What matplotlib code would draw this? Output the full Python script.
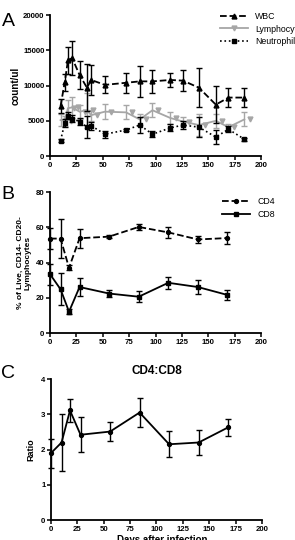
import numpy as np
import matplotlib
matplotlib.use("Agg")
import matplotlib.pyplot as plt

plt.rcParams['font.family'] = ['Liberation Sans', 'DejaVu Sans']

# панель A: кровь
days_a = [10, 14, 17, 21, 28, 35, 39, 52, 72, 85, 97, 114, 126, 141, 157, 169, 184]
wbc = [7100, 10500, 13600, 13900, 11500, 9700, 10800, 10100, 10400, 10600, 10600, 10800, 10700, 9700, 7300, 8300, 8300]
wbc_err = [1000, 1200, 1900, 2400, 2000, 3300, 2100, 1200, 1400, 2200, 1600, 1000, 1500, 2800, 2600, 1300, 1400]
lymph = [5100, 5000, 6800, 6900, 6300, 6500, 5800, 6300, 6200, 5200, 6500, 5400, 4900, 4400, 5000, 4100, 5200]
lymph_err = [800, 700, 1200, 1500, 1000, 2500, 800, 1100, 1000, 800, 1000, 900, 700, 1500, 1000, 500, 1000]
neut = [2200, 4700, 5700, 5300, 4900, 4100, 4300, 3100, 3700, 4400, 3100, 4000, 4400, 4100, 2700, 3800, 2400]
neut_err = [200, 600, 500, 500, 500, 1600, 600, 500, 200, 1100, 400, 500, 600, 1400, 1000, 400, 200]

# панели B и C
days_t = [0, 10, 18, 28, 56, 84, 112, 140, 168]
cd4 = [53.7, 53.7, 37.1, 53.9, 54.8, 60.3, 57.2, 53.2, 54.0]
cd4_err = [6, 11, 1.5, 5.5, 1, 1.8, 3, 2, 3.5]
cd8 = [33.5, 24.9, 12.2, 26.2, 22.5, 20.7, 28.6, 26.2, 21.7]
cd8_err = [6, 9, 1.5, 5, 2, 3, 3.5, 4, 3]
ratio = [1.9, 2.2, 3.11, 2.42, 2.51, 3.05, 2.15, 2.2, 2.63]
ratio_err = [0.41, 0.8, 0.33, 0.5, 0.26, 0.42, 0.37, 0.35, 0.25]

grey = '#a6a6a6'

fig = plt.figure(figsize=(2.95, 5.4), dpi=100)


def style(ax, ymax, ystep):
    for s in ['top', 'right']:
        ax.spines[s].set_visible(False)
    for s in ['left', 'bottom']:
        ax.spines[s].set_linewidth(1.3)
    ax.set_xlim(0, 200)
    ax.set_ylim(0, ymax)
    ax.set_xticks(np.arange(0, 201, 25))
    ax.set_yticks(np.arange(0, ymax + 1e-9, ystep))
    ax.tick_params(direction='out', length=3, width=1.1, pad=1, labelsize=5.6)
    for lab in ax.get_xticklabels() + ax.get_yticklabels():
        lab.set_fontweight('bold')


# A
axA = fig.add_axes([0.1695, 0.711, 0.716, 0.261])
axA.errorbar(days_a, wbc, yerr=wbc_err, color='black', ls='--', lw=1.3, marker='^', ms=3.5,
             capsize=2.5, elinewidth=1.0, capthick=1.0, label='WBC', clip_on=False, zorder=3)
axA.errorbar(days_a, lymph, yerr=lymph_err, color=grey, ls='-', lw=1.3, capsize=2.5,
             elinewidth=1.0, capthick=1.0, clip_on=False, zorder=2)
axA.plot(np.array(days_a) + 5.5, lymph, ls='none', marker='v', ms=3.5, color=grey, clip_on=False, zorder=2)
axA.errorbar(days_a, neut, yerr=neut_err, color='black', ls=':', lw=1.2, marker='s', ms=3.5,
             capsize=2.5, elinewidth=1.0, capthick=1.0, label='Neutrophils', clip_on=False, zorder=3)
style(axA, 20000, 5000)
axA.set_ylabel('count/ul', fontsize=7, fontweight='bold', labelpad=2)
hA = [plt.Line2D([], [], color='black', ls='--', lw=1.3, marker='^', ms=3.5),
      plt.Line2D([], [], color=grey, ls='-', lw=1.3, marker='v', ms=3.5),
      plt.Line2D([], [], color='black', ls=':', lw=1.2, marker='s', ms=3.5)]
axA.legend(hA, ['WBC', 'Lymphocytes', 'Neutrophils'], loc='upper left', bbox_to_anchor=(0.79, 1.05),
           frameon=False, fontsize=6.3, handlelength=3.2, labelspacing=0.45, borderaxespad=0)

# B
axB = fig.add_axes([0.1695, 0.383, 0.716, 0.261])
axB.errorbar(days_t, cd4, yerr=cd4_err, color='black', ls='--', lw=1.3, marker='o', ms=2.8,
             capsize=2.5, elinewidth=1.0, capthick=1.0, label='CD4', clip_on=False)
axB.errorbar(days_t, cd8, yerr=cd8_err, color='black', ls='-', lw=1.3, marker='s', ms=3.3,
             capsize=2.5, elinewidth=1.0, capthick=1.0, label='CD8', clip_on=False)
style(axB, 80, 20)
axB.set_ylabel('% of Live, CD14- CD20-\nLymphocytes', fontsize=6, fontweight='bold', labelpad=3)
hB = [plt.Line2D([], [], color='black', ls='--', lw=1.3, marker='o', ms=2.8),
      plt.Line2D([], [], color='black', ls='-', lw=1.3, marker='s', ms=3.3)]
axB.legend(hB, ['CD4', 'CD8'], loc='upper left', bbox_to_anchor=(0.8, 0.99),
           frameon=False, fontsize=6.3, handlelength=3.2, labelspacing=0.45, borderaxespad=0)

# C
axC = fig.add_axes([0.1729, 0.037, 0.715, 0.261])
axC.errorbar(days_t, ratio, yerr=ratio_err, color='black', ls='-', lw=1.3, marker='o', ms=2.8,
             capsize=2.5, elinewidth=1.0, capthick=1.0, clip_on=False)
style(axC, 4, 1)
axC.set_ylabel('Ratio', fontsize=6.5, fontweight='bold', labelpad=4)
axC.set_title('CD4:CD8', fontsize=8.5, fontweight='bold', pad=4)

fig.text(0.55, 0.009, 'Days after infection', fontsize=7, fontweight='bold', ha='center', va='top')

for lab, y in [('A', 0.975), ('B', 0.655), ('C', 0.325)]:
    fig.text(0.005, y, lab, fontsize=14, va='top', ha='left')

fig.savefig('out.png', dpi=100)
